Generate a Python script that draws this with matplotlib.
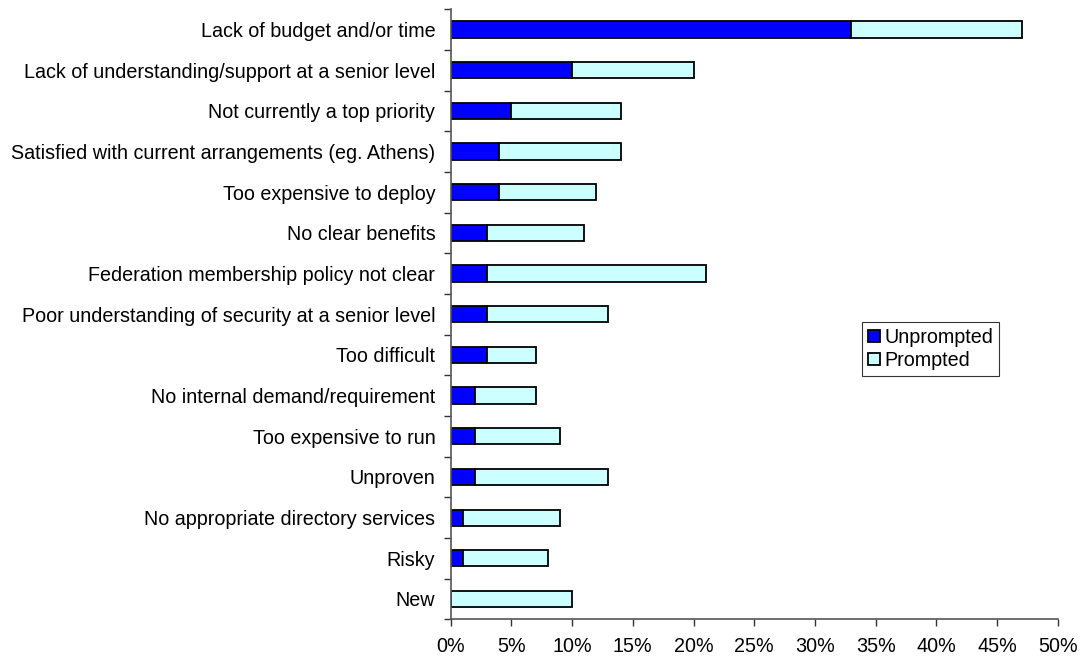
import matplotlib
matplotlib.use("Agg")
import matplotlib.pyplot as plt
import numpy as np
from matplotlib.ticker import FixedLocator, PercentFormatter

plt.rcParams['font.family'] = ['Liberation Sans', 'DejaVu Sans']

# barriers, top to bottom
barriers = [
    "Lack of budget and/or time",
    "Lack of understanding/support at a senior level",
    "Not currently a top priority",
    "Satisfied with current arrangements (eg. Athens)",
    "Too expensive to deploy",
    "No clear benefits",
    "Federation membership policy not clear",
    "Poor understanding of security at a senior level",
    "Too difficult",
    "No internal demand/requirement",
    "Too expensive to run",
    "Unproven",
    "No appropriate directory services",
    "Risky",
    "New",
]
unprompted = [33, 10, 5, 4, 4, 3, 3, 3, 3, 2, 2, 2, 1, 1, 0]
prompted = [14, 10, 9, 10, 8, 8, 18, 10, 4, 5, 7, 11, 8, 7, 10]

fig = plt.figure(figsize=(10.87, 6.58), dpi=100)
ax = fig.add_axes([0.4145, 0.0588, 0.5588, 0.9271])

n = len(barriers)
ypos = np.arange(n)[::-1]

ax.barh(ypos, unprompted, height=0.4, color='#0000FF', edgecolor='black',
        linewidth=1.3, label='Unprompted')
ax.barh(ypos, prompted, left=unprompted, height=0.4, color='#CCFFFF',
        edgecolor='black', linewidth=1.3, label='Prompted')

ax.set_xlim(0, 50)
ax.set_ylim(-0.5, n - 0.5)
ax.set_xticks(np.arange(0, 51, 5))
ax.xaxis.set_major_formatter(PercentFormatter(decimals=0))

# labels at the bar centres, tick marks between the categories
ax.set_yticks(ypos)
ax.set_yticklabels(barriers)
ax.yaxis.set_minor_locator(FixedLocator(np.arange(-0.5, n, 1.0)))
ax.tick_params(axis='y', which='major', length=0, pad=11, labelsize=14.2)
ax.tick_params(axis='y', which='minor', length=5, width=1, color='#333333')
ax.tick_params(axis='x', length=5, width=1, color='#333333', labelsize=14.2, pad=8)

for side in ('top', 'right'):
    ax.spines[side].set_visible(False)
for side in ('left', 'bottom'):
    ax.spines[side].set_color('#555555')
    ax.spines[side].set_linewidth(1.2)

leg = ax.legend(loc='upper left', bbox_to_anchor=(0.677, 0.487), fontsize=14.2,
                frameon=True, fancybox=False, edgecolor='black',
                handlelength=0.6, handleheight=0.6, handletextpad=0.25,
                borderpad=0.3, labelspacing=0.2, borderaxespad=0)
leg.get_frame().set_linewidth(0.8)

fig.savefig('out.png', dpi=100, facecolor='white')
